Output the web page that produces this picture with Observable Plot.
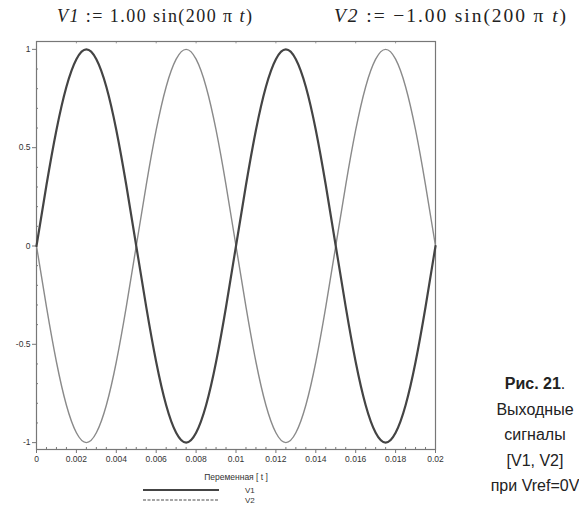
<!DOCTYPE html>
<html>
<head>
<meta charset="utf-8">
<script src="https://cdn.jsdelivr.net/npm/d3@7"></script>
<script src="https://cdn.jsdelivr.net/npm/@observablehq/plot@0.6"></script>
<style>
  html, body { margin: 0; padding: 0; background: #fff; }
  #wrap { position: relative; width: 579px; height: 512px; overflow: hidden; background: #fff; }
  #caption { position: absolute; left: 475px; width: 120px; top: 371px; text-align: center; font-family: "Liberation Sans", Arial, sans-serif; font-size: 16px; line-height: 25.5px; color: #222; white-space: nowrap; }
  #overlay { position: absolute; left: 0; top: 0; }
</style>
</head>
<body>
<div id="wrap">
  <div id="plot"></div>
  <div id="caption"><b>Рис. 21</b>.<br>Выходные<br>сигналы<br>[V1, V2]<br>при Vref=0V</div>
</div>
<script>
// time samples (s)
const tValues = [0,0.0005,0.001,0.0015,0.002,0.0025,0.003,0.0035,0.004,0.0045,
  0.005,0.0055,0.006,0.0065,0.007,0.0075,0.008,0.0085,0.009,0.0095,
  0.01,0.0105,0.011,0.0115,0.012,0.0125,0.013,0.0135,0.014,0.0145,
  0.015,0.0155,0.016,0.0165,0.017,0.0175,0.018,0.0185,0.019,0.0195,0.02];
// V1
const v1Values = [0,0.31,0.59,0.81,0.95,1,0.95,0.81,0.59,0.31,
  0,-0.31,-0.59,-0.81,-0.95,-1,-0.95,-0.81,-0.59,-0.31,
  0,0.31,0.59,0.81,0.95,1,0.95,0.81,0.59,0.31,
  0,-0.31,-0.59,-0.81,-0.95,-1,-0.95,-0.81,-0.59,-0.31,0];
// V2
const v2Values = [0,-0.31,-0.59,-0.81,-0.95,-1,-0.95,-0.81,-0.59,-0.31,
  0,0.31,0.59,0.81,0.95,1,0.95,0.81,0.59,0.31,
  0,-0.31,-0.59,-0.81,-0.95,-1,-0.95,-0.81,-0.59,-0.31,
  0,0.31,0.59,0.81,0.95,1,0.95,0.81,0.59,0.31,0];

const xTicks = [0,0.002,0.004,0.006,0.008,0.01,0.012,0.014,0.016,0.018,0.02];
const xTickLabels = ["0","0.002","0.004","0.006","0.008","0.01","0.012","0.014","0.016","0.018","0.02"];
const yTicks = [-1,-0.5,0,0.5,1];
const yTickLabels = ["-1","-0.5","0","0.5","1"];
const xMinor = [0.0005,0.001,0.0015,0.0025,0.003,0.0035,0.0045,0.005,0.0055,0.0065,0.007,0.0075,
  0.0085,0.009,0.0095,0.0105,0.011,0.0115,0.0125,0.013,0.0135,0.0145,0.015,0.0155,
  0.0165,0.017,0.0175,0.0185,0.019,0.0195];
const yMinor = [-0.9,-0.8,-0.7,-0.6,-0.4,-0.3,-0.2,-0.1,0.1,0.2,0.3,0.4,0.6,0.7,0.8,0.9];
const seriesNames = ["V1","V2"];
const xLabel = "Переменная [ t ]";

const rows1 = tValues.map((t,i) => ({t, v: v1Values[i]}));
const rows2 = tValues.map((t,i) => ({t, v: v2Values[i]}));

const yLo = -1.035, yHi = 1.04;
const chart = Plot.plot({
  width: 579,
  height: 512,
  marginLeft: 36,
  marginRight: 144,
  marginTop: 41,
  marginBottom: 63,
  style: {fontFamily: "Liberation Sans, Arial, sans-serif", fontSize: "8.5px", color: "#333", background: "#fff"},
  x: {domain: [0, 0.02]},
  y: {domain: [yLo, yHi]},
  marks: [
    Plot.ruleX(xMinor, {x: d => d, y1: yLo, y2: yLo + 0.01, stroke: "#777"}),
    Plot.ruleX(xTicks, {x: d => d, y1: yHi, y2: yHi - 0.012, stroke: "#999"}),
    Plot.ruleY(yMinor, {y: d => d, x1: 0, x2: 0.0001, stroke: "#777"}),
    Plot.frame({stroke: "#777", strokeWidth: 1.2}),
    Plot.axisX(xTicks, {tickFormat: (d, i) => xTickLabels[i], tickSize: 4, tickPadding: 2, stroke: "#777", label: xLabel, labelAnchor: "center", labelArrow: "none", labelOffset: 30, fontSize: 8.5}),
    Plot.axisY(yTicks, {tickFormat: (d, i) => yTickLabels[i], tickSize: 4, tickPadding: 2, stroke: "#777", label: null, fontSize: 8.5}),
    Plot.line(rows2, {x: "t", y: "v", curve: "natural", stroke: "#8a8a8a", strokeWidth: 1.4}),
    Plot.line(rows1, {x: "t", y: "v", curve: "natural", stroke: "#444", strokeWidth: 2.2})
  ]
});
document.getElementById("plot").appendChild(chart);

// overlay: equations (title) and legend
const ov = d3.select("#wrap").append("svg")
  .attr("id", "overlay").attr("width", 579).attr("height", 512)
  .style("pointer-events", "none");

function eq(x, len, size, parts) {
  const t = ov.append("text").attr("x", x).attr("y", 22)
    .attr("font-family", "Liberation Serif, DejaVu Serif, serif").attr("font-size", size)
    .attr("fill", "#222").attr("textLength", len).attr("lengthAdjust", "spacing");
  parts.forEach(([s, it]) => t.append("tspan").text(s).attr("font-style", it ? "italic" : "normal"));
}
eq(57, 195, 18, [["V1", true], [" := 1.00 sin(200 π ", false], ["t", true], [")", false]]);
eq(334, 232, 19.5, [["V2", true], [" := −1.00 sin(200 π ", false], ["t", true], [")", false]]);

const legendItems = [
  {name: seriesNames[0], y: 490, stroke: "#444", w: 2, dash: null},
  {name: seriesNames[1], y: 500, stroke: "#888", w: 1.4, dash: "3,1.5"}
];
legendItems.forEach(it => {
  ov.append("line").attr("x1", 143).attr("x2", 219).attr("y1", it.y).attr("y2", it.y)
    .attr("stroke", it.stroke).attr("stroke-width", it.w).attr("stroke-dasharray", it.dash);
  ov.append("text").attr("x", 245).attr("y", it.y + 3).text(it.name)
    .attr("font-family", "Liberation Sans, Arial, sans-serif").attr("font-size", 8).attr("fill", "#333");
});
</script>
</body>
</html>
